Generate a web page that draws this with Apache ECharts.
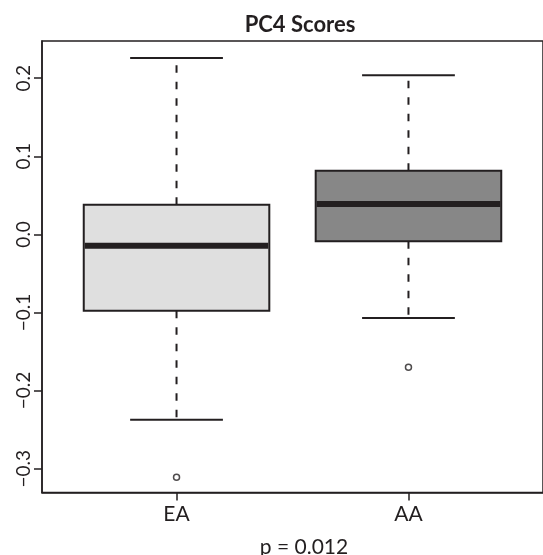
<!DOCTYPE html>
<html>
<head>
<meta charset="utf-8">
<script src="https://cdn.jsdelivr.net/npm/echarts@6/dist/echarts.min.js"></script>
<style>html,body{margin:0;padding:0;background:#fff}#c{width:543px;height:555px}</style>
</head>
<body>
<div id="c"></div>
<script>
// ---- data ----
var categories = ['EA', 'AA'];
var categoryPositions = [1, 2];
var lowerWhisker = [-0.2375, -0.107];
var q1 = [-0.0977, -0.0088];
var median = [-0.0145, 0.0389];
var q3 = [0.038, 0.0816];
var upperWhisker = [0.2259, 0.2037];
var outlierGroup = [1, 2];
var outlierValue = [-0.311, -0.170];
var yTicks = [-0.3, -0.2, -0.1, 0.0, 0.1, 0.2];
var titleText = 'PC4 Scores';
var subText = 'p = 0.012';

var fills = ['#dfdfdf', '#878787'];
var ink = '#231f20';
var FONT = 'Lato';

var boxData = categories.map(function (c, i) {
  return [categoryPositions[i], lowerWhisker[i], q1[i], median[i], q3[i], upperWhisker[i], i];
});
var outData = outlierGroup.map(function (g, i) { return [g, outlierValue[i]]; });

var chart = echarts.init(document.getElementById('c'), null, {renderer: 'canvas'});
chart.setOption({
  animation: false,
  backgroundColor: '#fff',
  title: [
    {text: titleText, left: 295, top: 9, textAlign: 'center',
     textStyle: {fontFamily: FONT, fontSize: 22, fontWeight: 'bold', color: ink}},
    {text: subText, left: 299, top: 532, textAlign: 'center',
     textStyle: {fontFamily: FONT, fontSize: 21, fontWeight: 'normal', color: ink}}
  ],
  grid: {left: 42, top: 41, right: -4, bottom: 62.5, show: true, borderColor: ink, borderWidth: 1.5, backgroundColor: 'transparent'},
  xAxis: {
    type: 'value', min: 0.42, max: 2.58,
    splitLine: {show: false},
    axisLine: {show: true, onZero: false, lineStyle: {color: ink, width: 1.5}},
    axisTick: {show: true, length: 8, customValues: categoryPositions, lineStyle: {color: ink, width: 1.5}},
    axisLabel: {customValues: categoryPositions, margin: 11, fontFamily: FONT, fontSize: 21, color: ink,
      formatter: function (v) { var k = categoryPositions.indexOf(Math.round(v)); return k >= 0 ? categories[k] : ''; }}
  },
  yAxis: {
    type: 'value', min: -0.3305, max: 0.2476,
    splitLine: {show: false},
    axisLine: {show: true, onZero: false, lineStyle: {color: ink, width: 1.5}},
    axisTick: {show: true, length: 8, customValues: yTicks, lineStyle: {color: ink, width: 1.5}},
    axisLabel: {customValues: yTicks, rotate: 90, margin: 9, fontFamily: FONT, fontSize: 19, color: ink,
      formatter: function (v) { return (v < 0 ? '\u2212' : '') + Math.abs(v).toFixed(1); }}
  },
  series: [
    {
      type: 'custom',
      data: boxData,
      encode: {x: 0, y: [1, 2, 3, 4, 5]},
      renderItem: function (params, api) {
        var x = api.value(0);
        var pLo = api.coord([x, api.value(1)]);
        var pQ1 = api.coord([x, api.value(2)]);
        var pMed = api.coord([x, api.value(3)]);
        var pQ3 = api.coord([x, api.value(4)]);
        var pHi = api.coord([x, api.value(5)]);
        var bw = api.size([0.8, 0])[0];
        var cw = api.size([0.4, 0])[0];
        var cx = pMed[0];
        var idx = api.value(6);
        var dashed = {stroke: ink, lineWidth: 2, lineDash: [7.5, 9], fill: null};
        var solid = {stroke: ink, lineWidth: 2, fill: null};
        return {
          type: 'group',
          children: [
            {type: 'line', shape: {x1: cx, y1: pQ3[1], x2: cx, y2: pHi[1]}, style: dashed},
            {type: 'line', shape: {x1: cx, y1: pQ1[1], x2: cx, y2: pLo[1]}, style: dashed},
            {type: 'line', shape: {x1: cx - cw / 2, y1: pHi[1], x2: cx + cw / 2, y2: pHi[1]}, style: solid},
            {type: 'line', shape: {x1: cx - cw / 2, y1: pLo[1], x2: cx + cw / 2, y2: pLo[1]}, style: solid},
            {type: 'rect', shape: {x: cx - bw / 2, y: pQ3[1], width: bw, height: pQ1[1] - pQ3[1]},
             style: {fill: fills[idx], stroke: ink, lineWidth: 2}},
            {type: 'line', shape: {x1: cx - bw / 2 + 1, y1: pMed[1], x2: cx + bw / 2 - 1, y2: pMed[1]},
             style: {stroke: ink, lineWidth: 6}}
          ]
        };
      }
    },
    {
      type: 'scatter',
      data: outData,
      symbol: 'circle',
      symbolSize: 6,
      itemStyle: {color: '#fff', borderColor: ink, borderWidth: 1.5}
    }
  ]
});
</script>
</body>
</html>
